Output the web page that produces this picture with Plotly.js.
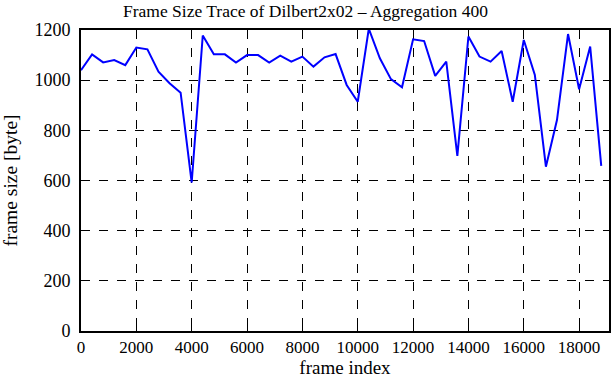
<!DOCTYPE html>
<html>
<head>
<meta charset="utf-8">
<script src="https://cdn.plot.ly/plotly-3.0.1.min.js"></script>
<style>html,body{margin:0;padding:0;background:#fff;}#chart{width:611px;height:380px;}</style>
</head>
<body>
<div id="chart"></div>
<script>
const frameIndex = [0,400,800,1200,1600,2000,2400,2800,3200,3600,4000,4400,4800,5200,5600,6000,6400,6800,7200,7600,8000,8400,8800,9200,9600,10000,10400,10800,11200,11600,12000,12400,12800,13200,13600,14000,14400,14800,15200,15600,16000,16400,16800,17200,17600,18000,18400,18800];
const frameSize = [1040,1103,1071,1080,1060,1130,1123,1034,988,950,592,1178,1103,1103,1070,1100,1100,1070,1098,1074,1094,1054,1091,1104,981,914,1205,1087,1004,972,1163,1156,1017,1074,698,1174,1094,1074,1116,914,1160,1021,655,841,1184,964,1134,658];
const xTicks = [0,2000,4000,6000,8000,10000,12000,14000,16000,18000];
const yTicks = [0,200,400,600,800,1000,1200];

const font = {family: 'Liberation Serif, Times New Roman, serif', color: '#000'};

Plotly.newPlot('chart', [{
  x: frameIndex, y: frameSize, type: 'scatter', mode: 'lines',
  line: {color: '#0000ff', width: 2}, cliponaxis: true
}], {
  width: 611, height: 380,
  margin: {l: 81, r: 2, t: 30, b: 49},
  paper_bgcolor: '#fff', plot_bgcolor: '#fff',
  showlegend: false,
  title: {text: 'Frame Size Trace of Dilbert2x02 \u2013 Aggregation 400', font: Object.assign({size: 17.5}, font), x: 0.5, xanchor: 'center', y: 0.972, yanchor: 'middle'},
  xaxis: {
    range: [0, 19080], tickvals: xTicks, ticktext: xTicks.map(String),
    ticks: 'inside', ticklen: 5, tickwidth: 1, tickcolor: '#000',
    showline: true, linecolor: '#000', linewidth: 2, mirror: 'ticks',
    showgrid: true, gridcolor: '#000', griddash: 'dash', gridwidth: 1,
    zeroline: false, tickfont: Object.assign({size: 17}, font),
    title: {text: 'frame index', font: Object.assign({size: 19}, font), standoff: 2}
  },
  yaxis: {
    range: [0, 1200], tickvals: yTicks, ticktext: yTicks.map(String),
    ticks: 'inside', ticklen: 5, tickwidth: 1, tickcolor: '#000',
    showline: true, linecolor: '#000', linewidth: 2, mirror: 'ticks',
    showgrid: true, gridcolor: '#000', griddash: 'dash', gridwidth: 1,
    zeroline: false, tickfont: Object.assign({size: 18}, font), ticklabelstandoff: 5,
    title: {text: 'frame size [byte]', font: Object.assign({size: 19.5}, font), standoff: 17}
  }
}, {displayModeBar: false, staticPlot: true});
</script>
</body>
</html>
